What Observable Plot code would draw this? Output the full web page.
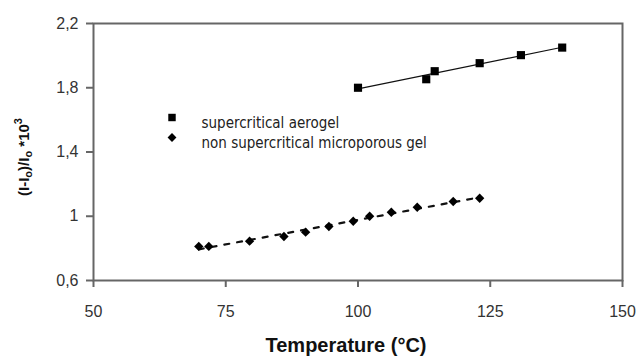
<!DOCTYPE html>
<html>
<head>
<meta charset="utf-8">
<script src="https://cdn.jsdelivr.net/npm/d3@7"></script>
<script src="https://cdn.jsdelivr.net/npm/@observablehq/plot@0.6"></script>
<style>
  html, body { margin: 0; padding: 0; background: #fff; }
  #chart { width: 638px; height: 362px; }
</style>
</head>
<body>
<div id="chart"></div>
<script>
// Series: supercritical aerogel
const temperatureAerogel = [100, 112.9, 114.5, 123.0, 130.8, 138.6];
const valueAerogel = [1.80, 1.853, 1.903, 1.953, 2.003, 2.05];
// Series: non supercritical microporous gel
const temperatureGel = [69.9, 71.8, 79.5, 86.0, 90.1, 94.5, 99.1, 102.2, 106.3, 111.2, 118.0, 123.0];
const valueGel = [0.812, 0.812, 0.845, 0.874, 0.901, 0.936, 0.969, 1.000, 1.025, 1.056, 1.092, 1.112];
// Axis ticks and labels
const xTicks = [50, 75, 100, 125, 150];
const yTicks = [0.6, 1.0, 1.4, 1.8, 2.2];
const seriesNames = ["supercritical aerogel", "non supercritical microporous gel"];
const xLabel = "Temperature (°C)";

const aerogel = temperatureAerogel.map((t, i) => ({x: t, y: valueAerogel[i]}));
const gel = temperatureGel.map((t, i) => ({x: t, y: valueGel[i]}));

const fmt = d => String(+d.toFixed(1)).replace(".", ",");

const plot = Plot.plot({
  width: 638,
  height: 362,
  marginLeft: 93,
  marginTop: 23,
  marginRight: 16,
  marginBottom: 82,
  style: {fontFamily: "Liberation Sans, Arial, sans-serif", fontSize: "16px", color: "#333", background: "#fff"},
  x: {domain: [50, 150]},
  y: {domain: [0.6, 2.2]},
  marks: [
    Plot.axisX({ticks: xTicks, tickSize: 7, tickPadding: 18, tickFormat: d => String(d), label: null, stroke: "#666", strokeWidth: 2, fontSize: 16}),
    Plot.axisY({ticks: yTicks, tickSize: 7, tickPadding: 8, tickFormat: fmt, label: null, stroke: "#666", strokeWidth: 2, fontSize: 16}),
    Plot.frame({stroke: "#666", strokeWidth: 2}),
    Plot.linearRegressionY(aerogel, {x: "x", y: "y", ci: 0, stroke: "#111", strokeWidth: 1.2}),
    Plot.linearRegressionY(gel, {x: "x", y: "y", ci: 0, stroke: "#111", strokeWidth: 2.2, strokeDasharray: "5,8"}),
    Plot.dot(aerogel, {x: "x", y: "y", symbol: "square", r: 4.6, fill: "#000", stroke: "none"}),
    Plot.dot(gel, {x: "x", y: "y", symbol: "diamond2", r: 4.2, fill: "#000", stroke: "none"}),
    // legend inside plot
    Plot.dot([seriesNames[0]], {frameAnchor: "top-left", dx: 78.5, dy: 94, symbol: "square", r: 4.2, fill: "#000"}),
    Plot.dot([seriesNames[1]], {frameAnchor: "top-left", dx: 78.5, dy: 114, symbol: "diamond2", r: 4, fill: "#000"}),
    Plot.text([seriesNames[0]], {text: d => d, frameAnchor: "top-left", dx: 108, dy: 94, textAnchor: "start", fontSize: 15, fill: "#222", fontFamily: "DejaVu Sans Condensed, DejaVu Sans, sans-serif"}),
    Plot.text([seriesNames[1]], {text: d => d, frameAnchor: "top-left", dx: 108, dy: 114, textAnchor: "start", fontSize: 15, fill: "#222", fontFamily: "DejaVu Sans Condensed, DejaVu Sans, sans-serif"}),
    Plot.text([xLabel], {text: d => d, frameAnchor: "bottom", dy: 71, dx: -12, fontSize: 20, fontWeight: "bold", fill: "#111"})
  ]
});

// Y axis label with subscripts/superscript
const svg = d3.select(plot);
const yl = svg.append("text")
  .attr("transform", "translate(29,157) rotate(-90)")
  .attr("text-anchor", "middle")
  .attr("font-family", "Liberation Sans, Arial, sans-serif")
  .attr("font-weight", "bold")
  .attr("font-size", 15)
  .attr("fill", "#111");
yl.append("tspan").text("(I-I");
yl.append("tspan").attr("font-size", 11).attr("dy", 3).text("o");
yl.append("tspan").attr("dy", -3).text(")/I");
yl.append("tspan").attr("font-size", 11).attr("dy", 3).text("o");
yl.append("tspan").attr("dy", -3).text(" *10");
yl.append("tspan").attr("font-size", 11).attr("dy", -7).text("3");

document.getElementById("chart").appendChild(plot);
</script>
</body>
</html>
